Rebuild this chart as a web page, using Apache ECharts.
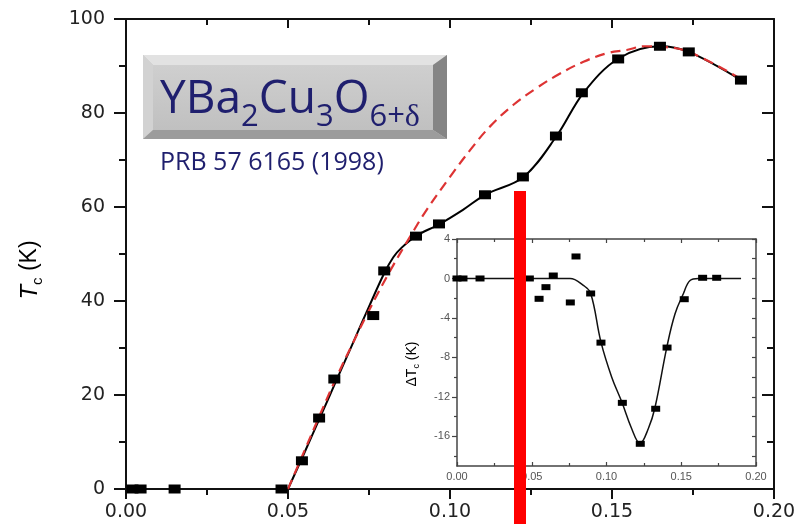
<!DOCTYPE html>
<html><head><meta charset="utf-8">
<script src="https://cdn.jsdelivr.net/npm/echarts@6/dist/echarts.min.js"></script>
<style>html,body{margin:0;padding:0;background:#fff}#c{width:801px;height:524px}</style>
</head><body><div id="c"></div>
<script>
// ---- main panel: measured Tc points ----
const mainX = [0.002, 0.0045, 0.015, 0.048, 0.0543, 0.0596, 0.0643, 0.0763, 0.0797, 0.0895, 0.0966, 0.1108, 0.1225, 0.1327, 0.1407, 0.1519, 0.1648, 0.1737, 0.1898];
const mainY = [0, 0, 0, 0, 6.0, 15.1, 23.4, 36.9, 46.4, 53.8, 56.4, 62.6, 66.4, 75.1, 84.3, 91.5, 94.2, 93.0, 87.0];
// black guide curve through the data
const fitX = [0.050, 0.055, 0.060, 0.065, 0.070, 0.075, 0.0797, 0.0825, 0.085, 0.0897, 0.0966, 0.104, 0.1108, 0.1227, 0.1329, 0.1412, 0.1520, 0.1648, 0.1737, 0.1898];
const fitY = [0, 7.6, 15.4, 23.2, 31.0, 38.8, 45.9, 49.3, 51.3, 53.9, 56.3, 59.4, 62.6, 66.4, 75.1, 84.3, 91.6, 94.2, 93.0, 87.0];
// red dashed dome
const domeX = [0.050, 0.055, 0.060, 0.065, 0.070, 0.075, 0.0815, 0.0877, 0.0928, 0.100, 0.1062, 0.1123, 0.1195, 0.1267, 0.134, 0.1412, 0.1484, 0.1545, 0.160, 0.1648, 0.1737, 0.1898];
const domeY = [0, 8.0, 16.0, 23.8, 31.0, 38.0, 46.4, 53.7, 59.4, 66.4, 72.1, 77.1, 81.7, 85.3, 88.4, 90.9, 92.7, 93.4, 94.2, 94.1, 93.0, 87.2];
// ---- inset: delta Tc ----
const insetX = [0.000, 0.004, 0.0154, 0.0484, 0.0549, 0.0595, 0.0644, 0.0758, 0.0796, 0.0894, 0.0963, 0.1106, 0.1226, 0.1329, 0.1405, 0.152, 0.1643, 0.1737];
const insetY = [0, 0, 0, 0, -2.06, -0.88, 0.3, -2.43, 2.23, -1.52, -6.5, -12.6, -16.75, -13.2, -7.0, -2.1, 0.07, 0.07];
const insetFitX = [0.000, 0.040, 0.0756, 0.0845, 0.0894, 0.0963, 0.1035, 0.1102, 0.1168, 0.1224, 0.128, 0.1324, 0.1403, 0.1458, 0.1514, 0.1559, 0.1615, 0.175, 0.190];
const insetFitY = [0, 0, 0, -0.7, -1.5, -6.45, -10.0, -12.5, -15.2, -16.7, -15.2, -13.1, -7.0, -3.6, -1.55, -0.2, 0, 0, 0];
// ---- ticks ----
const mainYTicks = [0, 20, 40, 60, 80, 100];
const insetYTicks = [4, 0, -4, -8, -12, -16];
const insetYMinor = [2, -2, -6, -10, -14, -18];
const insetYAll = [4, 2, 0, -2, -4, -6, -8, -10, -12, -14, -16, -18];
// ---- texts ----
const titleParts = [['YBa', 'm'], ['2', 's'], ['Cu', 'm'], ['3', 's'], ['O', 'm'], ['6+', 's'], ['δ', 'd']];
const refText = 'PRB 57 6165 (1998)';

const zip = (a, b) => a.map((v, i) => [v, b[i]]);
const chart = echarts.init(document.getElementById('c'), null, {renderer: 'canvas'});

const AX = '#111';
const LBL = {fontFamily: 'DejaVu Sans', fontSize: 19, color: '#222'};
const ILBL = {fontFamily: 'Liberation Sans', fontSize: 11, color: '#555'};
const IAX = '#444';

function mainAxis(extra) {
  return Object.assign({
    type: 'value', gridIndex: 0,
    axisLine: {show: true, onZero: false, lineStyle: {color: AX, width: 2}},
    splitLine: {show: false},
  }, extra);
}

// title text layout via measured widths
const cv = document.createElement('canvas').getContext('2d');
const NAVY = '#1f1f6e';
const fonts = {
  m: {font: '46px "Open Sans"', shift: 0},
  s: {font: '31px "Open Sans"', shift: 13},
  d: {font: '32px "Liberation Serif"', shift: 13}
};
function midOffset(font) { cv.font = font; cv.textBaseline = 'middle'; return cv.measureText('H').actualBoundingBoxDescent; }
const graphics = [];
// bevelled box
const bx0 = 143, by0 = 55, bx1 = 447, by1 = 139, bl = 10, bt = 10, br = 14, bb = 9;
graphics.push({type: 'rect', shape: {x: bx0, y: by0, width: bx1 - bx0, height: by1 - by0}, style: {fill: '#c6c6c6'}, z: 10});
graphics.push({type: 'polygon', shape: {points: [[bx0, by0], [bx1, by0], [bx1 - br, by0 + bt], [bx0 + bl, by0 + bt]]}, style: {fill: '#e2e2e2'}, z: 11});
graphics.push({type: 'polygon', shape: {points: [[bx0, by0], [bx0 + bl, by0 + bt], [bx0 + bl, by1 - bb], [bx0, by1]]}, style: {fill: '#d2d2d2'}, z: 11});
graphics.push({type: 'polygon', shape: {points: [[bx1, by0], [bx1, by1], [bx1 - br, by1 - bb], [bx1 - br, by0 + bt]]}, style: {fill: '#858585'}, z: 11});
graphics.push({type: 'polygon', shape: {points: [[bx0, by1], [bx0 + bl, by1 - bb], [bx1 - br, by1 - bb], [bx1, by1]]}, style: {fill: '#9c9c9c'}, z: 11});
graphics.push({type: 'rect', shape: {x: bx0 + bl, y: by0 + bt, width: bx1 - bx0 - bl - br, height: by1 - by0 - bt - bb},
  style: {fill: new echarts.graphic.LinearGradient(0, 0, 0, 1, [{offset: 0, color: '#cfcfcf'}, {offset: 1, color: '#c0c0c0'}])}, z: 12});
let tx = 160;
const baseY = 113.3;
titleParts.forEach(([t, k]) => {
  const f = fonts[k];
  cv.font = f.font;
  const w = cv.measureText(t).width;
  graphics.push({type: 'text', x: tx, y: baseY + f.shift - midOffset(f.font), z: 20,
    style: {text: t, font: f.font, fill: NAVY, align: 'left', verticalAlign: 'middle'}});
  tx += w;
});
const refFont = '25px "Open Sans"';
graphics.push({type: 'text', x: 160, y: 170 - midOffset(refFont), z: 20,
  style: {text: refText, font: refFont, fill: NAVY, align: 'left', verticalAlign: 'middle'}});
// axis titles
graphics.push({type: 'text', x: 30, y: 270, rotation: Math.PI / 2, z: 20,
  style: {text: '{i|T}{s|c}{n| (K)}', align: 'center', verticalAlign: 'middle',
    rich: {i: {fontFamily: 'Liberation Sans', fontStyle: 'italic', fontSize: 24, color: '#333', lineHeight: 30},
           s: {fontFamily: 'Liberation Sans', fontSize: 15, color: '#333', verticalAlign: 'bottom', lineHeight: 18},
           n: {fontFamily: 'Liberation Sans', fontSize: 23, color: '#333', lineHeight: 30}}}});
graphics.push({type: 'text', x: 412, y: 364, rotation: Math.PI / 2, z: 20,
  style: {text: '{n|ΔT}{s|c}{n| (K)}', align: 'center', verticalAlign: 'middle',
    rich: {n: {fontFamily: 'Liberation Sans', fontSize: 14, color: '#555', lineHeight: 18},
           s: {fontFamily: 'Liberation Sans', fontSize: 9, color: '#555', verticalAlign: 'bottom', lineHeight: 11}}}});
// red marker bar (annotation)
graphics.push({type: 'rect', shape: {x: 514, y: 191, width: 12, height: 340}, style: {fill: '#ff0000'}, z: 100});

const option = {
  animation: false,
  backgroundColor: '#fff',
  grid: [
    {left: 126, right: 27, top: 19, bottom: 35, containLabel: false, outerBoundsMode: 'none'},
    {left: 457, right: 45, top: 239, bottom: 58, containLabel: false, outerBoundsMode: 'none'}
  ],
  xAxis: [
    mainAxis({position: 'bottom', min: 0, max: 0.2, interval: 0.05,
      axisTick: {show: true, inside: false, length: 10, lineStyle: {color: AX, width: 2}},
      minorTick: {show: true, splitNumber: 2, length: 6, lineStyle: {color: AX, width: 2}},
      axisLabel: Object.assign({margin: 14, formatter: v => v.toFixed(2)}, LBL)}),
    mainAxis({position: 'top', min: 0, max: 0.2, interval: 0.05,
      axisTick: {show: true, inside: true, length: 9, lineStyle: {color: AX, width: 2}},
      minorTick: {show: true, splitNumber: 2, length: 6, lineStyle: {color: AX, width: 2}},
      axisLabel: {show: false}}),
    {type: 'value', gridIndex: 1, position: 'bottom', min: 0, max: 0.2, interval: 0.05,
      axisLine: {show: true, onZero: false, lineStyle: {color: IAX, width: 1.5}},
      axisTick: {show: true, inside: true, length: 4, lineStyle: {color: IAX, width: 1.2}},
      minorTick: {show: true, splitNumber: 2, length: 3, lineStyle: {color: IAX, width: 1.2}},
      splitLine: {show: false},
      axisLabel: Object.assign({margin: 5, formatter: v => v.toFixed(2)}, ILBL)},
    {type: 'value', gridIndex: 1, position: 'top', min: 0, max: 0.2, interval: 0.05,
      axisLine: {show: true, onZero: false, lineStyle: {color: IAX, width: 1.5}},
      axisTick: {show: true, inside: true, length: 4, lineStyle: {color: IAX, width: 1.2}},
      minorTick: {show: true, splitNumber: 2, length: 3, lineStyle: {color: IAX, width: 1.2}},
      splitLine: {show: false}, axisLabel: {show: false}}
  ],
  yAxis: [
    mainAxis({position: 'left', min: 0, max: 100, interval: 20,
      axisTick: {show: true, inside: false, length: 12, lineStyle: {color: AX, width: 2}},
      minorTick: {show: true, splitNumber: 2, length: 7, lineStyle: {color: AX, width: 2}},
      axisLabel: Object.assign({margin: 21, customValues: mainYTicks}, LBL)}),
    mainAxis({position: 'right', min: 0, max: 100, interval: 20,
      axisTick: {show: true, inside: true, length: 12, lineStyle: {color: AX, width: 2}},
      minorTick: {show: true, splitNumber: 2, length: 7, lineStyle: {color: AX, width: 2}},
      axisLabel: {show: false}}),
    {type: 'value', gridIndex: 1, position: 'left', min: -19, max: 4,
      axisLine: {show: true, onZero: false, lineStyle: {color: IAX, width: 1.5}},
      axisTick: {show: true, inside: false, length: 5, customValues: insetYTicks, lineStyle: {color: IAX, width: 1.2}},
      splitLine: {show: false},
      axisLabel: Object.assign({margin: 7, customValues: insetYTicks}, ILBL)},
    {type: 'value', gridIndex: 1, position: 'left', min: -19, max: 4,
      axisLine: {show: false},
      axisTick: {show: true, inside: false, length: 3, customValues: insetYMinor, lineStyle: {color: IAX, width: 1.2}},
      splitLine: {show: false}, axisLabel: {show: false}},
    {type: 'value', gridIndex: 1, position: 'right', min: -19, max: 4,
      axisLine: {show: true, onZero: false, lineStyle: {color: IAX, width: 1.5}},
      axisTick: {show: true, inside: true, length: 4, customValues: insetYAll, lineStyle: {color: IAX, width: 1.2}},
      splitLine: {show: false}, axisLabel: {show: false}}
  ],
  series: [
    {type: 'line', xAxisIndex: 0, yAxisIndex: 0, data: zip(fitX, fitY), smooth: 0.35, showSymbol: false, symbol: 'none',
      lineStyle: {color: '#000', width: 2}, z: 2},
    {type: 'line', xAxisIndex: 0, yAxisIndex: 0, data: zip(domeX, domeY), smooth: 0.4, showSymbol: false, symbol: 'none',
      lineStyle: {color: '#dd3333', width: 2.2, type: [10, 6]}, z: 3},
    {type: 'scatter', xAxisIndex: 0, yAxisIndex: 0, data: zip(mainX, mainY), symbol: 'rect', symbolSize: [12, 9],
      itemStyle: {color: '#000', opacity: 1}, clip: false, z: 4},
    {type: 'line', xAxisIndex: 2, yAxisIndex: 2, data: zip(insetFitX, insetFitY), smooth: 0.4, showSymbol: false, symbol: 'none',
      lineStyle: {color: '#111', width: 1.5}, z: 2},
    {type: 'scatter', xAxisIndex: 2, yAxisIndex: 2, data: zip(insetX, insetY), symbol: 'rect', symbolSize: [9, 6],
      itemStyle: {color: '#000', opacity: 1}, clip: false, z: 4}
  ],
  graphic: graphics
};
chart.setOption(option);
</script>
</body></html>
